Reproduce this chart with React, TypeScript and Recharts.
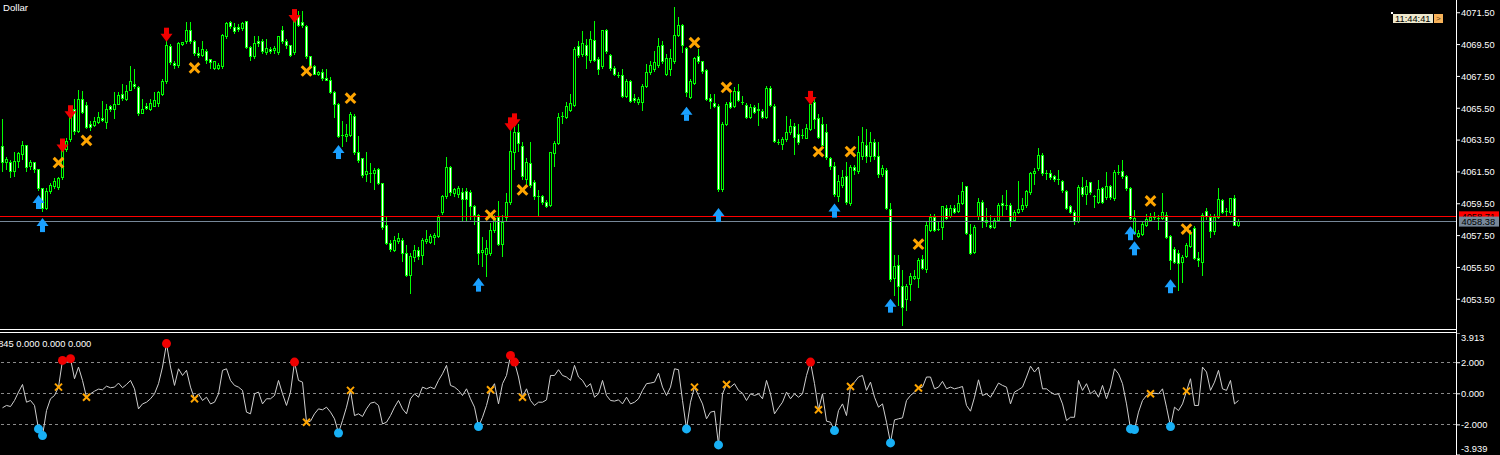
import React from 'react';
import { ComposedChart, Bar, Scatter, Line, XAxis, YAxis, ReferenceLine } from 'recharts';

// [open, high, low, close]
const bars: [number, number, number, number][] = [
[4063.09,4064.80,4061.51,4062.08],[4062.08,4062.46,4061.64,4062.27],[4062.08,4062.27,4061.13,4061.51],[4061.51,4062.78,4061.20,4062.15],
[4062.15,4062.78,4061.77,4062.65],[4062.59,4063.47,4062.27,4063.16],[4063.16,4063.22,4061.51,4061.77],[4061.83,4062.27,4061.64,4062.08],
[4062.08,4062.15,4061.45,4061.64],[4061.64,4061.70,4060.31,4060.44],[4060.44,4060.50,4058.98,4059.23],[4059.23,4060.50,4059.11,4060.25],
[4060.25,4060.82,4060.12,4060.63],[4060.56,4061.13,4060.44,4060.88],[4060.50,4061.20,4060.37,4061.07],[4061.13,4063.22,4061.01,4063.03],
[4062.90,4063.60,4062.78,4063.41],[4063.54,4065.44,4063.41,4065.25],[4065.44,4066.07,4063.85,4064.04],[4064.04,4066.64,4063.92,4066.07],
[4066.07,4066.58,4065.12,4065.25],[4065.69,4065.88,4064.17,4064.30],[4064.49,4064.68,4064.04,4064.30],[4064.42,4064.93,4064.30,4064.68],
[4064.61,4065.25,4064.49,4064.93],[4064.87,4065.94,4064.61,4064.74],[4064.61,4065.75,4064.17,4065.44],[4065.63,4065.69,4065.25,4065.44],
[4065.44,4066.51,4064.80,4065.75],[4065.75,4066.51,4065.69,4066.32],[4066.39,4067.02,4065.94,4066.13],[4066.07,4066.96,4065.94,4066.58],
[4066.64,4068.16,4066.58,4067.15],[4067.02,4067.97,4066.70,4066.89],[4066.83,4066.89,4064.99,4065.18],[4065.18,4066.07,4065.12,4065.44],
[4065.63,4065.82,4065.37,4065.50],[4065.44,4066.07,4065.31,4065.82],[4065.63,4066.51,4065.56,4066.01],[4065.82,4066.60,4065.55,4066.51],
[4066.39,4067.34,4066.26,4067.15],[4067.15,4069.87,4067.02,4069.43],[4069.36,4069.55,4068.22,4068.35],[4068.29,4068.48,4067.97,4068.16],
[4068.16,4069.68,4068.03,4069.55],[4069.49,4069.68,4069.43,4069.62],[4069.68,4070.94,4069.55,4070.37],[4070.37,4070.94,4069.55,4069.68],
[4069.68,4069.81,4068.79,4068.92],[4068.92,4069.36,4068.67,4068.79],[4068.79,4069.74,4068.73,4069.17],[4069.05,4069.24,4068.29,4068.48],
[4068.54,4068.60,4067.97,4068.35],[4067.97,4068.48,4067.91,4068.41],[4067.97,4068.35,4067.91,4068.16],[4068.10,4070.19,4067.97,4070.06],
[4070.00,4070.94,4069.87,4070.82],[4070.88,4071.01,4070.50,4070.63],[4070.56,4070.88,4070.19,4070.31],[4070.56,4070.82,4070.31,4070.44],
[4070.50,4070.94,4070.37,4070.82],[4070.94,4071.01,4069.24,4069.30],[4069.30,4069.43,4068.48,4068.73],[4068.73,4070.06,4068.60,4069.55],
[4069.68,4070.06,4069.36,4069.55],[4069.68,4069.87,4068.92,4069.05],[4068.98,4069.87,4068.86,4069.24],[4069.17,4069.36,4068.92,4069.05],
[4069.11,4069.43,4068.92,4069.24],[4068.98,4070.05,4068.86,4070.00],[4070.37,4070.69,4069.55,4069.68],[4069.68,4069.87,4069.24,4069.43],
[4069.43,4069.49,4068.73,4068.79],[4068.98,4071.70,4068.86,4071.26],[4071.26,4071.58,4070.63,4070.69],[4070.88,4071.64,4070.56,4070.69],
[4070.63,4070.75,4068.60,4068.73],[4068.73,4068.79,4067.97,4068.10],[4068.10,4068.22,4067.59,4067.65],[4067.59,4067.84,4067.53,4067.72],
[4067.72,4067.97,4067.21,4067.34],[4067.40,4067.97,4067.21,4067.27],[4067.27,4067.46,4066.39,4066.51],[4066.51,4066.58,4064.87,4065.75],
[4065.75,4065.82,4063.60,4063.73],[4063.79,4064.68,4063.09,4063.73],[4063.73,4064.49,4063.35,4063.85],[4063.79,4065.25,4063.67,4065.12],
[4064.99,4065.12,4062.59,4062.72],[4062.72,4063.73,4062.08,4062.21],[4062.34,4062.40,4061.13,4061.26],[4061.32,4062.78,4060.88,4061.51],
[4061.45,4062.08,4060.82,4061.39],[4061.39,4061.77,4060.37,4061.58],[4061.64,4061.77,4060.69,4060.75],[4060.75,4060.82,4057.84,4058.03],
[4058.16,4058.73,4056.89,4057.02],[4057.02,4057.21,4056.45,4056.64],[4056.58,4057.46,4056.45,4057.21],[4057.14,4057.65,4056.95,4057.33],
[4057.21,4057.33,4055.82,4056.39],[4056.39,4056.89,4054.87,4054.99],[4054.99,4056.39,4053.85,4056.20],[4056.13,4056.89,4055.82,4056.58],
[4056.58,4056.77,4055.94,4056.20],[4056.26,4057.33,4055.63,4057.21],[4057.14,4057.84,4056.95,4057.27],[4057.08,4057.59,4056.95,4057.46],
[4057.40,4057.65,4056.89,4057.52],[4057.46,4058.79,4057.33,4058.66],[4058.92,4060.06,4058.79,4059.93],[4059.93,4062.46,4059.80,4061.77],
[4061.77,4061.89,4059.99,4060.18],[4060.12,4060.50,4059.93,4060.37],[4060.06,4060.63,4059.87,4060.44],[4060.18,4060.50,4058.35,4059.74],
[4060.25,4060.50,4058.35,4059.74],[4060.18,4060.37,4058.48,4059.30],[4059.30,4059.42,4058.16,4058.79],[4058.79,4058.85,4055.63,4056.39],
[4056.45,4057.40,4055.50,4056.58],[4056.32,4057.21,4054.93,4056.70],[4056.39,4058.28,4056.20,4057.84],[4057.84,4058.79,4057.65,4058.60],
[4058.66,4059.68,4056.83,4056.95],[4056.95,4058.79,4056.13,4058.35],[4058.66,4060.18,4058.35,4059.61],[4059.61,4064.36,4059.42,4062.78],
[4062.72,4064.30,4061.64,4063.98],[4063.98,4064.49,4062.78,4063.29],[4063.09,4063.41,4061.01,4061.20],[4061.01,4062.40,4060.69,4062.08],
[4062.02,4063.41,4060.50,4060.63],[4060.82,4061.01,4059.74,4059.93],[4059.93,4060.37,4058.66,4059.99],[4059.93,4060.06,4059.42,4059.55],
[4059.61,4059.74,4059.23,4059.30],[4059.42,4062.78,4059.30,4062.72],[4062.65,4063.47,4061.83,4063.29],[4063.29,4065.18,4063.16,4064.93],
[4064.93,4065.25,4064.49,4064.99],[4064.93,4065.88,4064.80,4065.63],[4065.37,4066.39,4065.25,4065.82],[4065.69,4069.36,4065.56,4069.17],
[4069.36,4069.74,4068.67,4068.79],[4068.86,4070.37,4068.73,4069.55],[4069.43,4069.87,4067.97,4068.79],[4068.48,4070.37,4068.35,4069.81],
[4069.74,4071.01,4068.41,4068.48],[4068.54,4068.73,4067.59,4067.91],[4068.10,4070.44,4067.97,4070.37],[4070.37,4070.50,4068.92,4069.05],
[4068.79,4068.92,4067.84,4067.97],[4067.97,4068.16,4067.53,4067.59],[4067.59,4067.78,4067.40,4067.53],[4067.53,4067.97,4066.13,4066.26],
[4066.26,4067.34,4066.13,4067.15],[4067.15,4067.27,4065.82,4065.94],[4066.13,4066.39,4065.82,4066.01],[4065.88,4066.20,4065.69,4066.07],
[4065.88,4067.02,4065.31,4066.89],[4066.89,4068.29,4066.77,4067.72],[4067.72,4068.48,4067.59,4068.16],[4067.91,4069.11,4067.78,4068.35],
[4068.16,4069.93,4068.03,4069.36],[4069.43,4069.74,4068.29,4068.41],[4067.65,4068.92,4067.53,4068.60],[4067.91,4069.24,4067.53,4068.60],
[4068.41,4071.83,4068.29,4070.06],[4070.06,4071.26,4070.00,4070.69],[4070.69,4070.82,4068.98,4069.43],[4069.24,4069.36,4066.20,4066.51],
[4066.20,4067.34,4066.07,4067.15],[4067.08,4068.73,4066.96,4068.60],[4068.73,4069.24,4068.29,4068.41],[4068.41,4068.48,4067.65,4067.78],
[4067.84,4067.97,4065.94,4066.07],[4066.13,4066.39,4065.44,4065.94],[4065.82,4066.39,4065.50,4065.63],[4065.63,4065.75,4060.25,4060.37],
[4060.37,4064.61,4060.25,4064.49],[4064.49,4065.88,4064.36,4065.75],[4065.88,4066.70,4065.44,4065.56],[4065.63,4066.83,4065.50,4066.58],
[4066.58,4067.02,4065.88,4066.01],[4065.88,4066.26,4065.69,4065.82],[4065.69,4065.82,4064.80,4064.93],[4064.93,4065.75,4064.80,4065.56],
[4065.56,4065.69,4065.12,4065.25],[4065.44,4065.82,4064.36,4065.37],[4065.31,4065.44,4064.80,4064.93],[4064.93,4066.89,4064.80,4066.77],
[4066.77,4066.89,4065.56,4065.69],[4065.63,4065.75,4063.29,4063.41],[4063.41,4063.54,4063.16,4063.35],[4063.22,4063.67,4062.90,4063.54],
[4063.54,4064.99,4063.41,4063.98],[4063.98,4064.80,4063.85,4064.36],[4064.36,4064.55,4062.59,4063.67],[4063.85,4064.49,4063.22,4063.35],
[4063.79,4064.17,4063.54,4063.73],[4063.60,4064.49,4063.54,4064.23],[4064.17,4065.88,4064.04,4065.75],[4065.88,4066.07,4064.17,4064.80],
[4064.87,4065.12,4063.54,4063.67],[4064.49,4064.93,4063.03,4063.16],[4063.98,4064.49,4062.27,4062.40],[4062.34,4062.46,4061.64,4061.83],
[4061.83,4062.15,4059.93,4060.06],[4059.93,4061.32,4059.61,4060.88],[4060.63,4061.64,4060.50,4061.13],[4061.20,4062.15,4059.42,4059.55],
[4059.49,4061.96,4059.36,4061.77],[4061.77,4061.96,4061.32,4061.58],[4061.51,4063.73,4061.39,4062.72],[4062.46,4064.30,4062.27,4063.35],
[4063.16,4064.17,4062.08,4062.46],[4062.46,4063.98,4062.15,4063.35],[4063.35,4063.54,4062.27,4062.46],[4062.46,4063.35,4061.13,4061.32],
[4061.32,4061.96,4061.20,4061.70],[4061.58,4061.77,4059.11,4059.23],[4059.17,4059.55,4054.61,4054.74],[4054.80,4056.26,4053.73,4055.56],
[4055.63,4056.26,4053.09,4054.30],[4054.30,4055.31,4051.83,4052.97],[4053.47,4054.49,4052.78,4054.30],[4054.42,4055.18,4053.41,4054.93],
[4054.80,4055.31,4054.68,4054.93],[4054.80,4056.07,4054.23,4055.94],[4056.01,4056.26,4055.31,4055.44],[4055.37,4058.35,4055.18,4058.16],
[4057.84,4058.85,4057.72,4058.66],[4058.66,4058.85,4057.72,4057.84],[4057.90,4058.41,4057.78,4057.87],[4058.03,4059.36,4057.21,4059.30],
[4059.23,4059.42,4058.48,4058.60],[4058.73,4059.42,4058.60,4059.23],[4059.23,4059.42,4058.85,4058.98],[4059.04,4060.06,4058.92,4059.49],
[4059.49,4060.88,4059.42,4060.25],[4060.56,4060.63,4057.52,4057.65],[4057.59,4058.22,4056.26,4056.39],[4056.45,4058.16,4056.32,4058.03],
[4058.73,4059.87,4058.48,4059.61],[4059.61,4059.74,4057.97,4058.41],[4058.48,4059.23,4058.03,4058.35],[4058.16,4058.79,4057.90,4058.03],
[4058.03,4058.60,4057.90,4058.48],[4058.48,4059.55,4058.35,4059.42],[4059.49,4060.06,4058.66,4059.36],[4059.42,4060.37,4059.11,4059.36],
[4059.42,4059.55,4058.03,4058.41],[4058.48,4059.11,4058.35,4058.98],[4058.98,4060.94,4058.85,4059.11],[4059.11,4059.87,4058.98,4059.42],
[4059.36,4060.37,4059.23,4060.25],[4060.18,4061.51,4060.06,4061.39],[4061.39,4061.77,4060.69,4061.51],[4061.70,4063.03,4061.58,4062.53],
[4062.53,4062.72,4061.26,4061.39],[4061.45,4061.64,4061.01,4061.39],[4061.39,4061.64,4061.01,4061.13],[4061.20,4061.32,4060.88,4061.01],
[4061.07,4061.64,4060.69,4061.01],[4060.88,4061.01,4060.18,4060.31],[4060.25,4060.37,4059.11,4059.23],[4059.30,4059.42,4058.85,4058.98],
[4058.98,4059.11,4058.16,4058.41],[4058.41,4060.69,4058.28,4060.50],[4060.50,4061.20,4059.93,4060.06],[4060.06,4061.01,4059.42,4060.56],
[4060.82,4060.88,4060.06,4060.18],[4059.99,4060.06,4059.23,4059.93],[4059.61,4061.01,4059.49,4060.37],[4060.44,4060.56,4059.49,4059.61],
[4059.87,4061.51,4059.74,4060.56],[4060.56,4060.69,4059.74,4059.87],[4059.80,4061.64,4059.68,4061.45],[4061.45,4061.96,4061.32,4061.51],
[4061.51,4062.27,4061.07,4061.20],[4061.20,4061.32,4060.31,4060.44],[4060.44,4060.56,4058.48,4058.60],[4057.65,4059.11,4057.52,4058.60],
[4057.46,4057.84,4057.33,4057.65],[4057.59,4058.35,4057.46,4058.22],[4058.16,4058.85,4058.03,4058.54],[4058.48,4058.92,4058.35,4058.66],
[4058.66,4058.98,4058.48,4058.60],[4058.60,4058.79,4057.84,4058.57],[4058.60,4060.18,4058.48,4058.92],[4058.79,4058.98,4057.27,4057.40],
[4057.46,4057.52,4055.37,4055.94],[4056.64,4056.77,4055.69,4055.82],[4056.39,4056.58,4054.04,4055.75],[4055.82,4056.26,4054.55,4056.13],
[4056.20,4057.02,4056.07,4056.89],[4056.83,4057.84,4056.70,4057.65],[4057.97,4058.10,4055.94,4056.07],[4056.07,4056.45,4055.50,4055.94],
[4055.82,4058.92,4054.99,4058.79],[4059.04,4059.23,4058.48,4058.73],[4058.66,4058.85,4057.33,4057.78],[4057.78,4058.85,4057.52,4058.66],
[4058.66,4060.50,4058.54,4059.74],[4059.68,4059.80,4058.85,4058.98],[4058.98,4059.23,4058.73,4059.04],[4058.92,4059.87,4058.79,4059.80],
[4059.80,4060.06,4058.10,4058.16],[4058.16,4058.54,4058.03,4058.38],
];

const oscillator: number[] = [
-0.90,-0.75,-0.82,-0.43,0.11,0.60,-0.54,-0.43,-0.75,-2.26,-2.69,-1.08,-0.32,-0.11,0.43,2.15,2.04,2.26,0.97,1.72,
0.86,-0.22,0.00,0.17,0.30,0.26,0.49,0.39,0.43,0.69,0.39,0.60,0.86,0.32,-0.97,-0.65,-0.54,-0.32,0.00,0.65,
1.72,3.23,1.72,0.54,1.61,1.18,1.51,0.43,-0.32,0.00,-0.43,-0.22,-0.65,-0.54,0.00,1.51,1.61,0.86,0.54,0.43,
0.22,-1.18,-1.29,0.00,0.11,-0.65,-0.32,-0.32,-0.11,0.86,0.00,-0.75,0.11,2.04,0.86,0.75,-1.83,-1.76,-1.29,-0.97,
-1.03,-0.86,-1.18,-1.61,-2.52,-1.72,-0.86,0.22,-1.40,-1.29,-1.46,-0.97,-0.60,-0.54,-0.75,-1.94,-1.83,-1.40,-0.86,-0.43,
-0.97,-1.29,-0.32,0.00,-0.22,0.43,0.32,0.43,0.32,0.86,1.29,1.83,0.54,0.43,0.22,-0.11,0.32,-0.32,-0.86,-2.11,
-1.51,-0.75,0.26,0.65,-0.65,0.65,1.18,2.47,2.04,1.08,-0.22,0.32,-0.43,-0.75,-0.54,-0.54,-0.39,1.18,1.18,1.55,
1.18,1.08,0.86,1.83,1.08,0.86,0.43,0.65,-0.22,0.00,0.86,-0.11,-0.43,-0.47,-0.39,-0.65,-0.22,-0.65,-0.54,-0.32,
0.22,0.65,0.69,0.75,1.33,0.43,-0.11,0.43,1.61,1.55,-0.43,-2.26,-0.54,0.43,-0.11,-0.65,-1.61,-1.18,-1.12,-3.29,
0.00,0.60,0.43,0.65,0.22,0.04,-0.43,0.00,-0.11,0.00,-0.32,0.86,0.00,-1.29,-0.90,-0.54,0.11,-0.32,0.00,-0.22,
0.00,1.18,2.04,0.65,-1.03,0.00,-1.76,-1.83,-2.37,-1.08,-0.65,-1.40,0.47,0.75,1.08,1.18,0.22,0.75,-0.22,-0.86,
-0.65,-1.83,-3.16,-1.68,-1.61,-1.55,-0.43,-0.11,0.11,0.37,0.43,1.08,1.08,0.32,0.43,0.80,0.32,0.43,0.32,0.39,
0.47,-0.75,-1.12,-0.22,0.90,-0.11,0.00,-0.22,0.22,0.69,0.54,0.43,-0.65,0.11,0.26,0.43,1.08,1.78,1.40,1.72,
0.32,0.32,0.11,-0.04,0.00,-0.65,-1.72,-1.51,-1.51,0.86,0.22,0.65,0.00,0.22,-0.22,0.54,-0.32,0.43,1.61,1.29,
0.65,-0.65,-2.26,-2.30,-1.18,-0.43,-0.11,0.00,0.04,0.00,0.32,-0.86,-2.11,-0.86,-1.08,-0.65,0.17,0.97,-0.75,-0.75,
1.72,1.40,0.22,0.75,1.51,0.32,0.22,0.86,-0.65,-0.43,
];

const sellSignals = [15, 17, 41, 73, 127, 128, 202];
const sellArrowPrices = [4063.16, 4065.25, 4070.12, 4071.29, 4064.49, 4064.74, 4066.15];
const buySignals = [9, 10, 84, 119, 171, 179, 208, 222, 282, 283, 292];
const buyArrowPrices = [4059.61, 4058.16, 4062.75, 4054.42, 4065.15, 4058.79, 4059.07, 4053.10, 4057.65, 4056.70, 4054.32];
const exitSignals = [14, 21, 48, 76, 87, 122, 130, 173, 181, 204, 212, 229, 287, 296];
const exitPrices = [4062.08, 4063.48, 4068.03, 4067.84, 4066.13, 4058.79, 4060.37, 4069.62, 4066.81, 4062.78, 4062.78, 4056.96, 4059.68, 4057.91];

const priceTicks = [4053.5, 4055.5, 4057.5, 4059.5, 4061.5, 4063.5, 4065.5, 4067.5, 4069.5, 4071.5];
const oscTicks = [3.913, 2, 0, -2, -3.939];
const oscLevels = [2, 0, -2];
const askPrice = 4058.71;
const bidPrice = 4058.38;
const symbolName = 'Dollar';
const indicatorTitle = '845 0.000 0.000 0.000';
const clockText = '11:44:41';

const candleData = bars.map(([open, high, low, close], i) => ({ i, open, high, low, close }));
const oscData = oscillator.map((v, i) => ({ i, v }));
const sellMarks = sellSignals.map((i, k) => ({ i, p: sellArrowPrices[k] }));
const buyMarks = buySignals.map((i, k) => ({ i, p: buyArrowPrices[k] }));
const exitMarks = exitSignals.map((i, k) => ({ i, p: exitPrices[k] }));
const oscSell = sellSignals.map((i) => ({ i, v: oscillator[i] }));
const oscBuy = buySignals.map((i) => ({ i, v: oscillator[i] }));
const oscExit = exitSignals.map((i) => ({ i, v: oscillator[i] }));

const GREEN = '#00FF00';
const FONT = "'Liberation Sans', Arial, sans-serif";
const X_DOMAIN: [number, number] = [-0.625, 363.375];

function Candle(props: any) {
  const { x, y, width, height, payload } = props;
  if (x == null || y == null || !payload) return null;
  const top = Math.min(y, y + height);
  const hpx = Math.abs(height);
  const { open, high, low, close } = payload;
  const k = hpx / Math.max(high - low, 1e-6);
  const cx = x + width / 2;
  const yO = top + (high - open) * k;
  const yC = top + (high - close) * k;
  const bTop = Math.min(yO, yC);
  const bBot = Math.max(yO, yC);
  const bull = close >= open;
  return (
    <g shapeRendering="crispEdges">
      <line x1={cx} x2={cx} y1={top} y2={top + hpx} stroke={GREEN} strokeWidth={1} />
      {bBot - bTop < 1 ? (
        <line x1={cx - 1.5} x2={cx + 1.5} y1={Math.round(bTop) + 0.5} y2={Math.round(bTop) + 0.5} stroke={GREEN} strokeWidth={1} />
      ) : (
        <rect x={cx - 1} y={bTop} width={2} height={bBot - bTop} fill={bull ? '#000000' : '#FFFFFF'} stroke={GREEN} strokeWidth={1} />
      )}
    </g>
  );
}

function DownArrow(props: any) {
  const { cx, cy } = props;
  if (cx == null) return null;
  return (
    <g>
      <rect x={cx - 2.5} y={cy - 7} width={5} height={6.5} fill="#F00000" />
      <polygon points={`${cx - 6},${cy - 1} ${cx + 6},${cy - 1} ${cx},${cy + 7}`} fill="#F00000" />
    </g>
  );
}

function UpArrow(props: any) {
  const { cx, cy } = props;
  if (cx == null) return null;
  return (
    <g>
      <rect x={cx - 2.5} y={cy + 0.5} width={5} height={6.5} fill="#1AA0FF" />
      <polygon points={`${cx - 6},${cy + 1} ${cx + 6},${cy + 1} ${cx},${cy - 7}`} fill="#1AA0FF" />
    </g>
  );
}

function BigCross(props: any) {
  const { cx, cy } = props;
  if (cx == null) return null;
  const s = 4.8;
  return (
    <g stroke="#FFA500" strokeWidth={3}>
      <line x1={cx - s} y1={cy - s} x2={cx + s} y2={cy + s} />
      <line x1={cx - s} y1={cy + s} x2={cx + s} y2={cy - s} />
    </g>
  );
}

function SmallCross(props: any) {
  const { cx, cy } = props;
  if (cx == null) return null;
  const s = 3.5;
  return (
    <g stroke="#FFA500" strokeWidth={2}>
      <line x1={cx - s} y1={cy - s} x2={cx + s} y2={cy + s} />
      <line x1={cx - s} y1={cy + s} x2={cx + s} y2={cy - s} />
    </g>
  );
}

function RedDot(props: any) {
  const { cx, cy } = props;
  if (cx == null) return null;
  return <circle cx={cx} cy={cy} r={4.5} fill="#F00000" />;
}

function BlueDot(props: any) {
  const { cx, cy } = props;
  if (cx == null) return null;
  return <circle cx={cx} cy={cy} r={4.5} fill="#18B0F5" />;
}

function PriceTick(props: any) {
  const { x, y, payload } = props;
  return (
    <text x={x} y={y} dy={3.4} fill="#FFFFFF" fontSize={9.3} fontFamily={FONT} textAnchor="start">
      {Number(payload.value).toFixed(2)}
    </text>
  );
}

function OscTick(props: any) {
  const { x, y, payload } = props;
  const v = Number(payload.value);
  let dy = 3.4;
  if (v > 3) dy = 8.4;
  if (v < -3) dy = -2.6;
  return (
    <text x={x} y={y} dy={dy} fill="#FFFFFF" fontSize={9.3} fontFamily={FONT} textAnchor="start">
      {v.toFixed(3)}
    </text>
  );
}

function PriceTag(props: any) {
  const { viewBox, text, bg, clipTop } = props;
  if (!viewBox) return null;
  const x = viewBox.x + viewBox.width + 3;
  const y = viewBox.y;
  return (
    <g>
      <rect x={x} y={y - 5} width={40} height={10} fill={bg} />
      {clipTop ? null : (
        <text x={x + 2.5} y={y + 3.4} fill="#000000" fontSize={9.3} fontFamily={FONT}>
          {text}
        </text>
      )}
    </g>
  );
}

export default function App() {
  return (
    <div style={{ position: 'absolute', left: 0, top: 0, width: 1500, height: 455, background: '#000000', overflow: 'hidden' }}>
      <div style={{ position: 'absolute', left: 0, top: 0 }}>
        <ComposedChart width={1500} height={330} data={candleData} margin={{ top: 0, right: 0, bottom: 0, left: 0 }}>
          <XAxis dataKey="i" type="number" domain={X_DOMAIN} allowDataOverflow hide />
          <YAxis
            orientation="right"
            width={44}
            domain={[4051.57, 4072.3]}
            allowDataOverflow
            ticks={priceTicks}
            interval={0}
            axisLine={false}
            tickLine={{ stroke: '#FFFFFF' }}
            tickSize={4}
            tickMargin={1}
            tick={<PriceTick />}
          />
          <Bar dataKey={(d: any) => [d.low, d.high]} shape={<Candle />} barSize={4} isAnimationActive={false} />
          <ReferenceLine y={askPrice} stroke="#FF0000" shapeRendering="crispEdges" label={<PriceTag text={askPrice.toFixed(2)} bg="#FF0000" />} />
          <ReferenceLine y={bidPrice} stroke="#778899" shapeRendering="crispEdges" label={<PriceTag text={bidPrice.toFixed(2)} bg="#778899" />} />
          <Scatter data={exitMarks} dataKey="p" shape={<BigCross />} isAnimationActive={false} />
          <Scatter data={sellMarks} dataKey="p" shape={<DownArrow />} isAnimationActive={false} />
          <Scatter data={buyMarks} dataKey="p" shape={<UpArrow />} isAnimationActive={false} />
        </ComposedChart>
      </div>
      <div style={{ position: 'absolute', left: 0, top: 333 }}>
        <ComposedChart width={1500} height={122} data={oscData} margin={{ top: 0, right: 0, bottom: 0, left: 0 }}>
          <XAxis dataKey="i" type="number" domain={X_DOMAIN} allowDataOverflow hide />
          <YAxis
            orientation="right"
            width={44}
            domain={[-3.939, 3.913]}
            allowDataOverflow
            ticks={oscTicks}
            interval={0}
            axisLine={false}
            tickLine={{ stroke: '#FFFFFF' }}
            tickSize={4}
            tickMargin={1}
            tick={<OscTick />}
          />
          {oscLevels.map((lv) => (
            <ReferenceLine key={lv} y={lv} stroke="#8A8A8A" strokeDasharray="3 3" shapeRendering="crispEdges" />
          ))}
          <Line dataKey="v" type="linear" stroke="#CFCFCF" strokeWidth={1} dot={false} isAnimationActive={false} />
          <Scatter data={oscExit} dataKey="v" shape={<SmallCross />} isAnimationActive={false} />
          <Scatter data={oscSell} dataKey="v" shape={<RedDot />} isAnimationActive={false} />
          <Scatter data={oscBuy} dataKey="v" shape={<BlueDot />} isAnimationActive={false} />
        </ComposedChart>
      </div>
      <svg width={1500} height={455} style={{ position: 'absolute', left: 0, top: 0, pointerEvents: 'none' }}>
        <g shapeRendering="crispEdges">
          <rect x={0} y={329} width={1456} height={1} fill="#FFFFFF" />
          <rect x={0} y={332} width={1456} height={1} fill="#FFFFFF" />
          <rect x={1456} y={0} width={1} height={455} fill="#FFFFFF" />
          <rect x={1391} y={12} width={2} height={2} fill="#FFFFFF" />
          <rect x={1393} y={14} width={40} height={9} fill="#EEE8CC" />
          <rect x={1434} y={14} width={9} height={9} fill="#F7B25A" />
        </g>
        <text x={1395} y={21.6} fill="#000000" fontSize={9.3} fontFamily={FONT}>{clockText}</text>
        <text x={1436} y={21.4} fill="#5A3A10" fontSize={8} fontFamily={FONT}>{'>'}</text>
        <text x={3} y={11} fill="#FFFFFF" fontSize={9.6} fontFamily={FONT}>{symbolName}</text>
        <text x={-1.8} y={346.7} fill="#FFFFFF" fontSize={9.3} fontFamily={FONT}>{indicatorTitle}</text>
      </svg>
    </div>
  );
}
